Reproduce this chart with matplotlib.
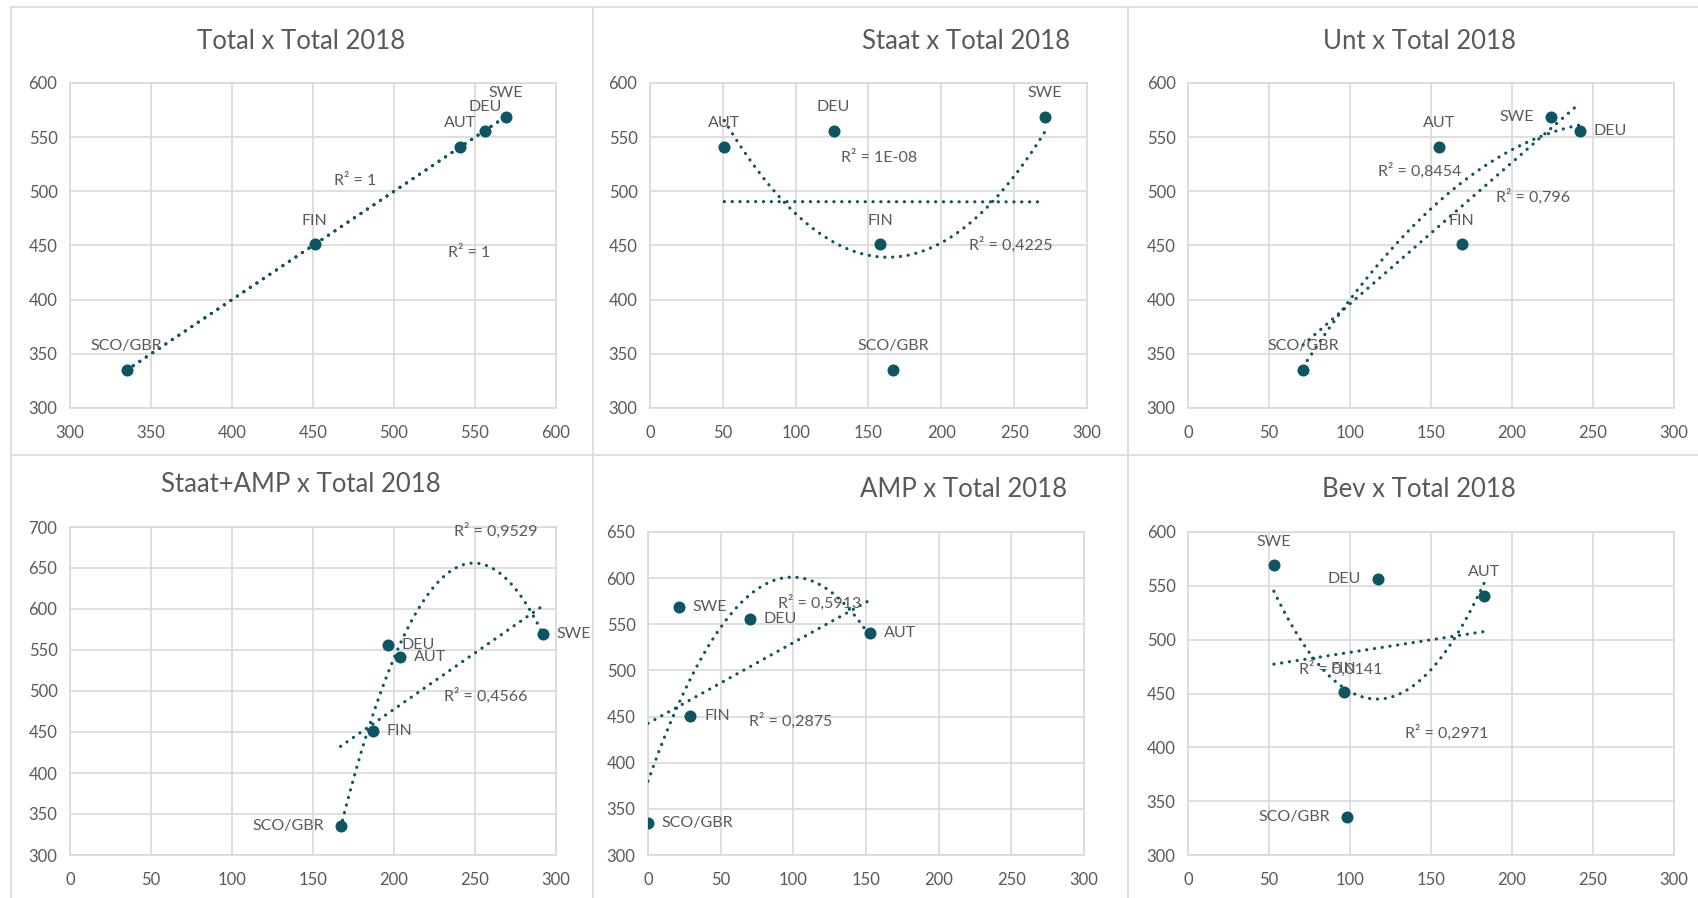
import numpy as np
import matplotlib
matplotlib.use("Agg")
import matplotlib.pyplot as plt
from matplotlib.lines import Line2D

plt.rcParams['font.family'] = ['Lato', 'DejaVu Sans']

# Länder und Gesamtwert 2018
laender = ['SWE', 'DEU', 'AUT', 'FIN', 'SCO/GBR']
total = [569, 556, 541, 451, 335]

# Ausgaben je Bereich (gleiche Reihenfolge wie laender)
staat = [271, 126, 51, 158, 167]
unt = [224, 242, 155, 169, 71]
amp = [21, 70, 153, 29, 0]
staat_amp = [292, 196, 204, 187, 167]
bev = [53, 117, 183, 96, 98]

titel = ['Total x Total 2018', 'Staat x Total 2018', 'Unt x Total 2018',
         'Staat+AMP x Total 2018', 'AMP x Total 2018', 'Bev x Total 2018']

# R²-Beschriftungen: (linear, polynom 2. Grades)
r2_texte = [('R² = 1', 'R² = 1'),
            ('R² = 1E-08', 'R² = 0,4225'),
            ('R² = 0,796', 'R² = 0,8454'),
            ('R² = 0,4566', 'R² = 0,9529'),
            ('R² = 0,2875', 'R² = 0,5913'),
            ('R² = 0,0141', 'R² = 0,2971')]

farbe = '#0d5563'
grau = '#595959'
gitter = '#d9d9d9'

W, H = 1699, 898
fig = plt.figure(figsize=(W / 100, H / 100), dpi=100)


def box(l, r, t, b):
    return [l / W, 1 - b / H, (r - l) / W, (b - t) / H]


# Plotbereiche in Pixeln (links, rechts, oben, unten)
bereiche = [box(70, 556, 83, 408), box(650, 1087, 83, 408), box(1188, 1674, 83, 408),
            box(70, 556, 527, 855), box(648, 1084, 532, 855), box(1188, 1674, 532, 855)]

xdaten = [total, staat, unt, staat_amp, amp, bev]
xlims = [(300, 600), (0, 300), (0, 300), (0, 300), (0, 300), (0, 300)]
ylims = [(300, 600), (300, 600), (300, 600), (300, 700), (300, 650), (300, 600)]
titel_pos = [(0.1773, 0.954), (0.5689, 0.954), (0.8354, 0.954),
             (0.1773, 0.461), (0.567, 0.455), (0.8354, 0.455)]

# Lage der Datenbeschriftungen je Diagramm: o = oben, r = rechts, l = links
lagen = [
    dict(SWE='o', DEU='o', AUT='o', FIN='o', **{'SCO/GBR': 'o'}),
    dict(SWE='o', DEU='o', AUT='o', FIN='o', **{'SCO/GBR': 'o'}),
    dict(SWE='l', DEU='r', AUT='o', FIN='o', **{'SCO/GBR': 'o'}),
    dict(SWE='r', DEU='r', AUT='r', FIN='r', **{'SCO/GBR': 'l'}),
    dict(SWE='r', DEU='r', AUT='r', FIN='r', **{'SCO/GBR': 'r'}),
    dict(SWE='o', DEU='l', AUT='o', FIN='o', **{'SCO/GBR': 'l'}),
]

# Position der R²-Texte in Achsenanteilen (linear, polynom)
r2_pos = [((0.587, 0.697), (0.821, 0.477)),
          ((0.524, 0.770), (0.826, 0.503)),
          ((0.710, 0.650), (0.477, 0.730)),
          ((0.855, 0.485), (0.877, 0.987)),
          ((0.326, 0.416), (0.393, 0.782)),
          ((0.314, 0.577), (0.532, 0.379))]

versatz = {'o': ((0, 12), 'center', 'bottom'),
           'r': ((10, 0), 'left', 'center'),
           'l': ((-12, 0), 'right', 'center')}

for i in range(6):
    ax = fig.add_axes(bereiche[i])
    x = np.array(xdaten[i], dtype=float)
    y = np.array(total, dtype=float)

    # Trendlinien: linear und Polynom 2. Grades
    xs = np.linspace(x.min(), x.max(), 200)
    for grad in (1, 2):
        k = np.polyfit(x, y, grad)
        ax.plot(xs, np.polyval(k, xs), color=farbe, lw=2.3,
                linestyle=(0, (0.05, 2.4)), dash_capstyle='round', zorder=3)

    ax.scatter(x, y, s=75, color=farbe, zorder=4, linewidths=0)

    for name, xv, yv in zip(laender, x, y):
        off, ha, va = versatz[lagen[i][name]]
        ax.annotate(name, (xv, yv), xytext=off, textcoords='offset points',
                    ha=ha, va=va, fontsize=11.5, color=grau, zorder=5)

    for txt, pos in zip(r2_texte[i], r2_pos[i]):
        ax.text(pos[0], pos[1], txt, transform=ax.transAxes, ha='center',
                va='center', fontsize=11.5, color=grau, zorder=5)

    ax.set_xlim(*xlims[i])
    ax.set_ylim(*ylims[i])
    ax.set_xticks(np.arange(xlims[i][0], xlims[i][1] + 1, 50))
    ax.set_yticks(np.arange(ylims[i][0], ylims[i][1] + 1, 50))
    ax.grid(True, color=gitter, lw=1.2)
    ax.set_axisbelow(True)
    for s in ax.spines.values():
        s.set_color(gitter)
        s.set_linewidth(1.2)
    ax.tick_params(length=0, labelsize=12, labelcolor=grau)
    ax.tick_params(axis='x', pad=12)
    ax.tick_params(axis='y', pad=9)

    fig.text(titel_pos[i][0], titel_pos[i][1], titel[i], ha='center', va='center',
             fontsize=18.5, color=grau)

# Rahmen der einzelnen Diagrammflächen
for xa, ya, xb, yb in [(11, 7, 11, 898), (11, 7, 1699, 7), (593, 7, 593, 898),
                       (1128, 7, 1128, 898), (11, 455, 1699, 455)]:
    fig.add_artist(Line2D([xa / W, xb / W], [1 - ya / H, 1 - yb / H],
                          color=gitter, lw=1.2))

fig.savefig('out.png', dpi=100, facecolor='white')
